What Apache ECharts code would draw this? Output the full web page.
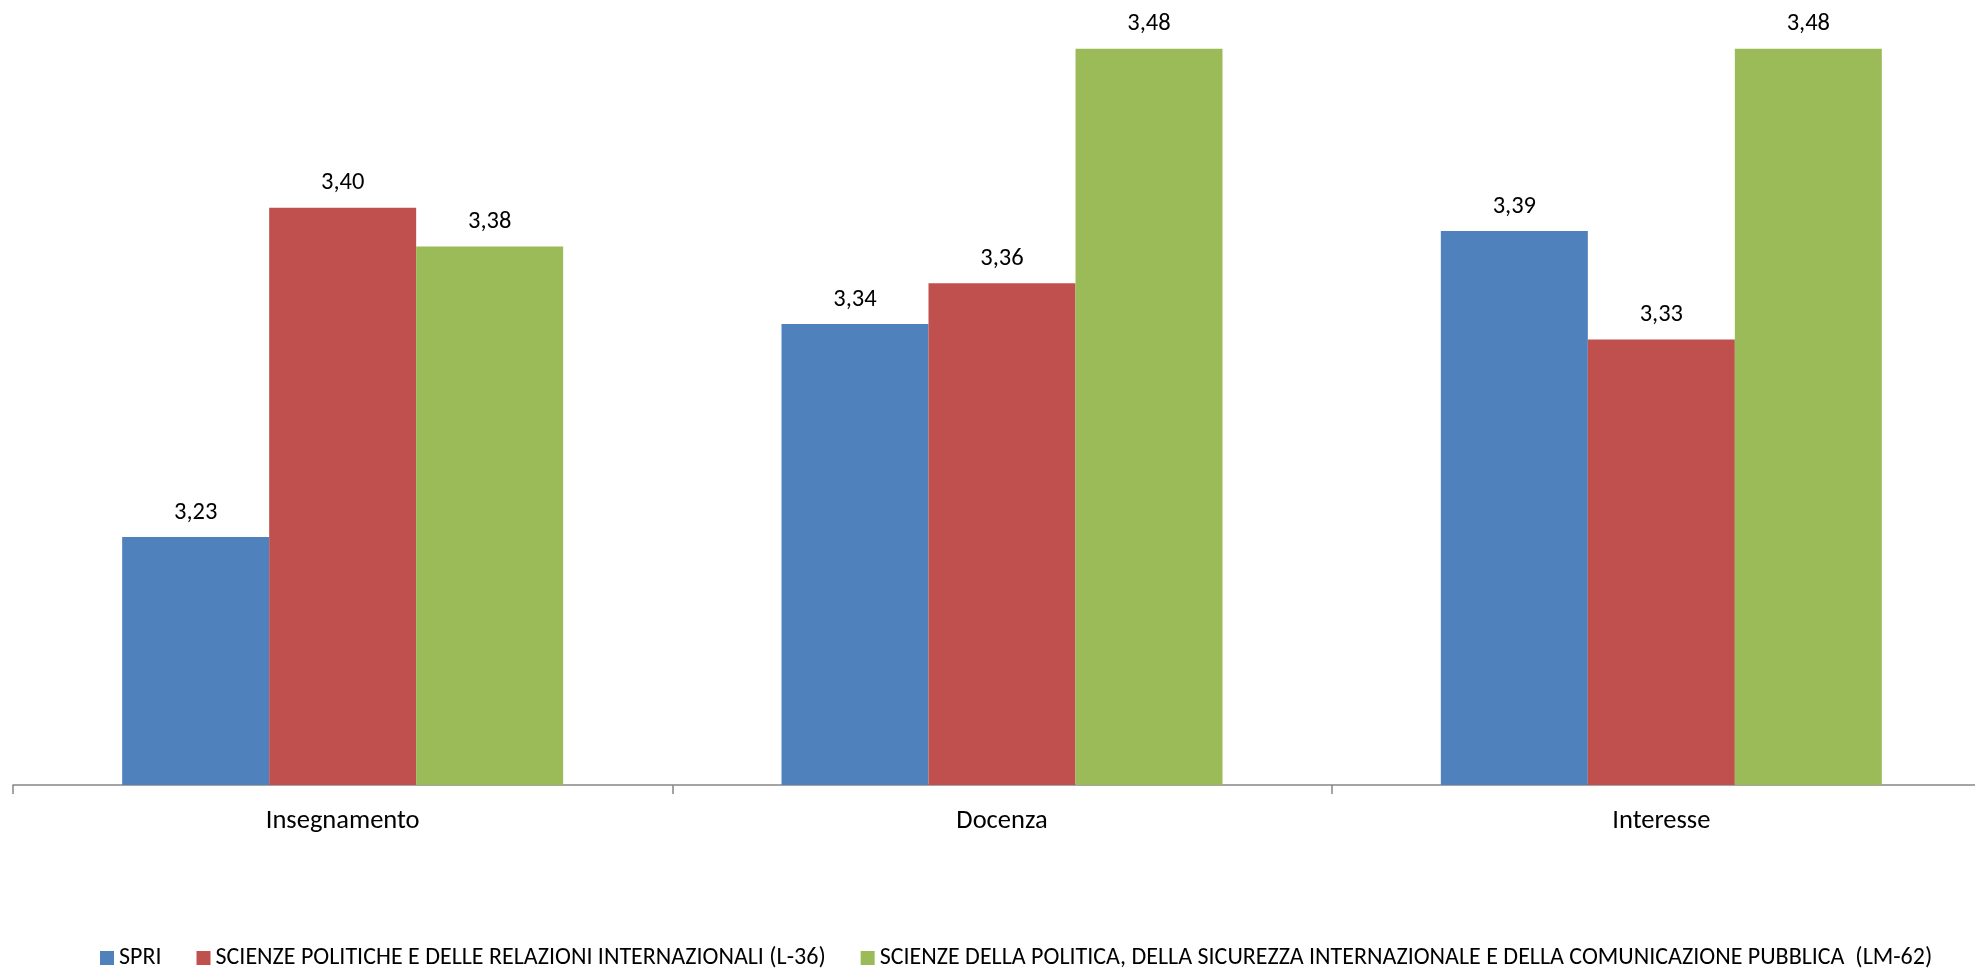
<!DOCTYPE html>
<html>
<head>
<meta charset="utf-8">
<script src="https://cdn.jsdelivr.net/npm/echarts@6/dist/echarts.min.js"></script>
<style>
html,body{margin:0;padding:0;background:#fff;}
#chart{width:1975px;height:973px;}
</style>
</head>
<body>
<div id="chart"></div>
<script>
const categories = ['Insegnamento', 'Docenza', 'Interesse'];
const seriesNames = [
  'SPRI',
  'SCIENZE POLITICHE E DELLE RELAZIONI INTERNAZIONALI (L-36)',
  'SCIENZE DELLA POLITICA, DELLA SICUREZZA INTERNAZIONALE E DELLA COMUNICAZIONE PUBBLICA  (LM-62)'
];
const spriValues = [3.228, 3.338, 3.386];
const l36Values = [3.398, 3.359, 3.330];
const lm62Values = [3.378, 3.480, 3.480];
const colors = ['#4F81BD', '#C0504D', '#9BBB59'];

const FONT = "Carlito, Lato, sans-serif";
const chart = echarts.init(document.getElementById('chart'));
const fmt = p => p.value.toFixed(2).replace('.', ',');
const mk = (name, data, color) => ({
  name, type: 'bar', data,
  barWidth: 147, barGap: '0%',
  itemStyle: { color },
  label: { show: true, position: 'top', distance: 12, formatter: fmt,
           color: '#000', fontSize: 24.5, fontFamily: FONT },
  animation: false
});
chart.setOption({
  animation: false,
  grid: { left: 13, width: 1978, top: 10, bottom: 188, containLabel: false,
          outerBoundsMode: 'none' },
  legend: {
    left: 100, top: 946, width: 1870, padding: 0,
    itemWidth: 14, itemHeight: 14, itemGap: 35,
    icon: 'rect',
    textStyle: { color: '#000', fontSize: 24, fontFamily: FONT },
    data: seriesNames
  },
  xAxis: {
    type: 'category', data: categories,
    axisLine: { lineStyle: { color: '#868686', width: 1.5 } },
    axisTick: { show: true, length: 9, lineStyle: { color: '#868686', width: 1.5 } },
    axisLabel: { color: '#000', fontSize: 26.5, fontFamily: FONT, margin: 23 }
  },
  yAxis: {
    type: 'value', min: 3.1, max: 3.5,
    show: false, splitLine: { show: false }
  },
  series: [
    mk(seriesNames[0], spriValues, colors[0]),
    mk(seriesNames[1], l36Values, colors[1]),
    mk(seriesNames[2], lm62Values, colors[2])
  ]
});
</script>
</body>
</html>
